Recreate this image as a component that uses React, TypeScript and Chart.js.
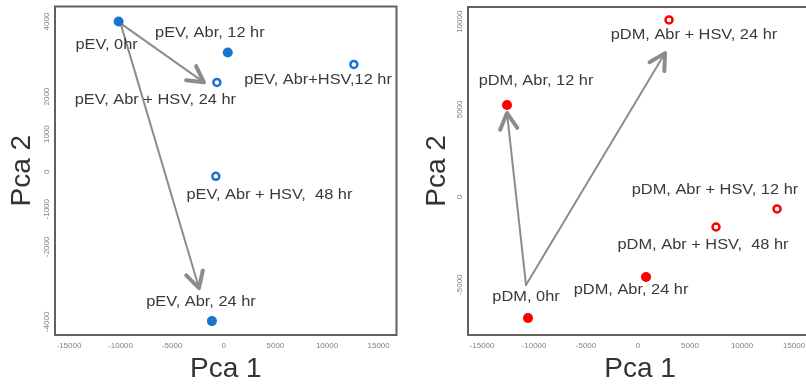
import React, { useEffect, useRef } from "react";
import { Chart, registerables } from "chart.js";
Chart.register(...registerables);

const FONT = "'Liberation Sans', Arial, Helvetica, sans-serif";

// shared x ticks
const X_TICKS = [-15000, -10000, -5000, 0, 5000, 10000, 15000];

// ---- pEV panel ----
const PEV_Y_TICKS = [4000, 2000, 1000, 0, -1000, -2000, -4000];
const PEV_SAMPLES = ["pEV, 0hr", "pEV, Abr, 12 hr", "pEV, Abr, 24 hr", "pEV, Abr+HSV,12 hr", "pEV, Abr + HSV, 24 hr", "pEV, Abr + HSV,  48 hr"];
const PEV_PCA1 = [-10190, 385, -1150, 12600, -670, -770];
const PEV_PCA2 = [4000, 3175, -3980, 2856, 2378, -122];
const PEV_HSV = [false, false, false, true, true, true];
const PEV_LABEL_PCA1 = [-11350, -1350, -2210, 9130, -6630, 4420];
const PEV_LABEL_PCA2 = [3360, 3680, -3470, 2430, 1900, -630];
const PEV_ARROW_X0 = [-10000, -10000];
const PEV_ARROW_Y0 = [3950, 3950];
const PEV_ARROW_X1 = [-1920, -2400];
const PEV_ARROW_Y1 = [2380, -3100];

// ---- pDM panel ----
const PDM_Y_TICKS = [10000, 5000, 0, -5000];
const PDM_SAMPLES = ["pDM, 0hr", "pDM, Abr, 12 hr", "pDM, Abr, 24 hr", "pDM, Abr + HSV, 12 hr", "pDM, Abr + HSV, 24 hr", "pDM, Abr + HSV,  48 hr"];
const PDM_PCA1 = [-10580, -12600, 770, 13370, 2980, 7500];
const PDM_PCA2 = [-6900, 5250, -4560, -680, 10100, -1710];
const PDM_HSV = [false, false, false, true, true, true];
const PDM_LABEL_PCA1 = [-10770, -9810, -670, 7400, 5380, 6250];
const PDM_LABEL_PCA2 = [-5700, 6620, -5300, 400, 9240, -2740];
const PDM_ARROW_X0 = [-10770, -10770];
const PDM_ARROW_Y0 = [-5020, -5020];
const PDM_ARROW_X1 = [-12600, 2600];
const PDM_ARROW_Y1 = [4790, 8210];

type PanelCfg = {
  color: string;
  names: string[];
  xs: number[];
  ys: number[];
  hsv: boolean[];
  lx: number[];
  ly: number[];
  ax0: number[];
  ay0: number[];
  ax1: number[];
  ay1: number[];
  yTicks: number[];
  xMin: number;
  xMax: number;
  yMin: number;
  yMax: number;
  width: number;
  left: number;
  yAxisWidth: number;
  padTop: number;
  padRight: number;
  titlePad: number;
};

const HEIGHT = 389;

function Panel({ cfg }: { cfg: PanelCfg }) {
  const ref = useRef<HTMLCanvasElement>(null);
  useEffect(() => {
    if (!ref.current) return;
    const filled = cfg.xs.map((x, i) => ({ x, y: cfg.ys[i] })).filter((_, i) => !cfg.hsv[i]);
    const open = cfg.xs.map((x, i) => ({ x, y: cfg.ys[i] })).filter((_, i) => cfg.hsv[i]);

    const deco = {
      id: "deco",
      beforeDatasetsDraw(chart: any) {
        const ctx = chart.ctx;
        const xs = chart.scales.x;
        const ys = chart.scales.y;
        ctx.save();
        ctx.strokeStyle = "#8c8c8c";
        ctx.lineCap = "round";
        ctx.lineJoin = "round";
        for (let i = 0; i < cfg.ax0.length; i++) {
          const x0 = xs.getPixelForValue(cfg.ax0[i]);
          const y0 = ys.getPixelForValue(cfg.ay0[i]);
          const x1 = xs.getPixelForValue(cfg.ax1[i]);
          const y1 = ys.getPixelForValue(cfg.ay1[i]);
          ctx.lineWidth = 2;
          ctx.beginPath();
          ctx.moveTo(x0, y0);
          ctx.lineTo(x1, y1);
          ctx.stroke();
          const ang = Math.atan2(y1 - y0, x1 - x0);
          const L = 18;
          const a = 0.5;
          ctx.lineWidth = 4;
          ctx.beginPath();
          ctx.moveTo(x1 - L * Math.cos(ang - a), y1 - L * Math.sin(ang - a));
          ctx.lineTo(x1, y1);
          ctx.lineTo(x1 - L * Math.cos(ang + a), y1 - L * Math.sin(ang + a));
          ctx.stroke();
        }
        ctx.restore();
      },
      afterDatasetsDraw(chart: any) {
        const ctx = chart.ctx;
        const xs = chart.scales.x;
        const ys = chart.scales.y;
        const ca = chart.chartArea;
        ctx.save();
        // labels
        ctx.fillStyle = "#3a3a3a";
        ctx.font = `14px ${FONT}`;
        ctx.textAlign = "center";
        ctx.textBaseline = "middle";
        cfg.names.forEach((n, i) => {
          ctx.save();
          ctx.translate(xs.getPixelForValue(cfg.lx[i]), ys.getPixelForValue(cfg.ly[i]));
          ctx.scale(1.17, 1);
          ctx.fillText(n, 0, 0);
          ctx.restore();
        });
        // y tick labels (vertical, R style)
        ctx.fillStyle = "#808080";
        ctx.font = `8px ${FONT}`;
        ys.ticks.forEach((t: any) => {
          const py = ys.getPixelForValue(t.value);
          ctx.save();
          ctx.translate(ca.left - 8, py);
          ctx.rotate(-Math.PI / 2);
          ctx.fillText(String(t.value), 0, 0);
          ctx.restore();
        });
        // frame
        ctx.strokeStyle = "#606060";
        ctx.lineWidth = 2;
        ctx.strokeRect(ca.left, ca.top, ca.right - ca.left, ca.bottom - ca.top);
        ctx.restore();
      },
    };

    const chart = new Chart(ref.current, {
      type: "scatter",
      data: {
        datasets: [
          {
            data: filled,
            pointRadius: 5,
            pointBackgroundColor: cfg.color,
            pointBorderColor: cfg.color,
            pointBorderWidth: 0,
          },
          {
            data: open,
            pointRadius: 3.5,
            pointBackgroundColor: "#ffffff",
            pointBorderColor: cfg.color,
            pointBorderWidth: 2.5,
          },
        ],
      },
      options: {
        animation: false,
        responsive: false,
        layout: { padding: { top: cfg.padTop, right: cfg.padRight, left: 0, bottom: 0 } },
        plugins: { legend: { display: false }, tooltip: { enabled: false } },
        scales: {
          x: {
            type: "linear",
            min: cfg.xMin,
            max: cfg.xMax,
            grid: { display: false, drawTicks: false },
            border: { display: false },
            afterBuildTicks: (s: any) => {
              s.ticks = X_TICKS.map((v) => ({ value: v }));
            },
            afterFit: (s: any) => {
              s.height = 54;
            },
            ticks: {
              autoSkip: false,
              maxRotation: 0,
              minRotation: 0,
              padding: 6,
              color: "#808080",
              font: { size: 8, family: FONT },
              callback: (v: any) => String(v),
            },
            title: {
              display: true,
              text: "Pca 1",
              color: "#333",
              font: { size: 28, family: FONT },
              padding: { top: 0, bottom: 3 },
            },
          },
          y: {
            type: "linear",
            min: cfg.yMin,
            max: cfg.yMax,
            grid: { display: false, drawTicks: false },
            border: { display: false },
            afterBuildTicks: (s: any) => {
              s.ticks = cfg.yTicks.map((v) => ({ value: v }));
            },
            afterFit: (s: any) => {
              s.width = cfg.yAxisWidth;
            },
            ticks: { display: false },
            title: {
              display: true,
              text: "Pca 2",
              color: "#333",
              font: { size: 28, family: FONT },
              padding: { top: cfg.titlePad, bottom: 0 },
            },
          },
        },
      },
      plugins: [deco],
    } as any);
    return () => chart.destroy();
  }, [cfg]);
  return (
    <canvas
      ref={ref}
      width={cfg.width}
      height={HEIGHT}
      style={{ position: "absolute", left: cfg.left, top: 0, width: cfg.width, height: HEIGHT }}
    />
  );
}

const PEV_CFG: PanelCfg = {
  color: "#1874cd",
  names: PEV_SAMPLES,
  xs: PEV_PCA1,
  ys: PEV_PCA2,
  hsv: PEV_HSV,
  lx: PEV_LABEL_PCA1,
  ly: PEV_LABEL_PCA2,
  ax0: PEV_ARROW_X0,
  ay0: PEV_ARROW_Y0,
  ax1: PEV_ARROW_X1,
  ay1: PEV_ARROW_Y1,
  yTicks: PEV_Y_TICKS,
  xMin: -16350,
  xMax: 16730,
  yMin: -4350,
  yMax: 4400,
  width: 403,
  left: 0,
  yAxisWidth: 55,
  padTop: 6,
  padRight: 4,
  titlePad: 5,
};

const PDM_CFG: PanelCfg = {
  color: "#ff0000",
  names: PDM_SAMPLES,
  xs: PDM_PCA1,
  ys: PDM_PCA2,
  hsv: PDM_HSV,
  lx: PDM_LABEL_PCA1,
  ly: PDM_LABEL_PCA2,
  ax0: PDM_ARROW_X0,
  ay0: PDM_ARROW_Y0,
  ax1: PDM_ARROW_X1,
  ay1: PDM_ARROW_Y1,
  yTicks: PDM_Y_TICKS,
  xMin: -16350,
  xMax: 16730,
  yMin: -7870,
  yMax: 10840,
  width: 420,
  left: 403,
  yAxisWidth: 65,
  padTop: 7,
  padRight: 11,
  titlePad: 17,
};

export default function App() {
  return (
    <div
      style={{
        position: "fixed",
        left: 0,
        top: 0,
        width: 806,
        height: HEIGHT,
        overflow: "hidden",
        background: "#ffffff",
      }}
    >
      <Panel cfg={PEV_CFG} />
      <Panel cfg={PDM_CFG} />
    </div>
  );
}
